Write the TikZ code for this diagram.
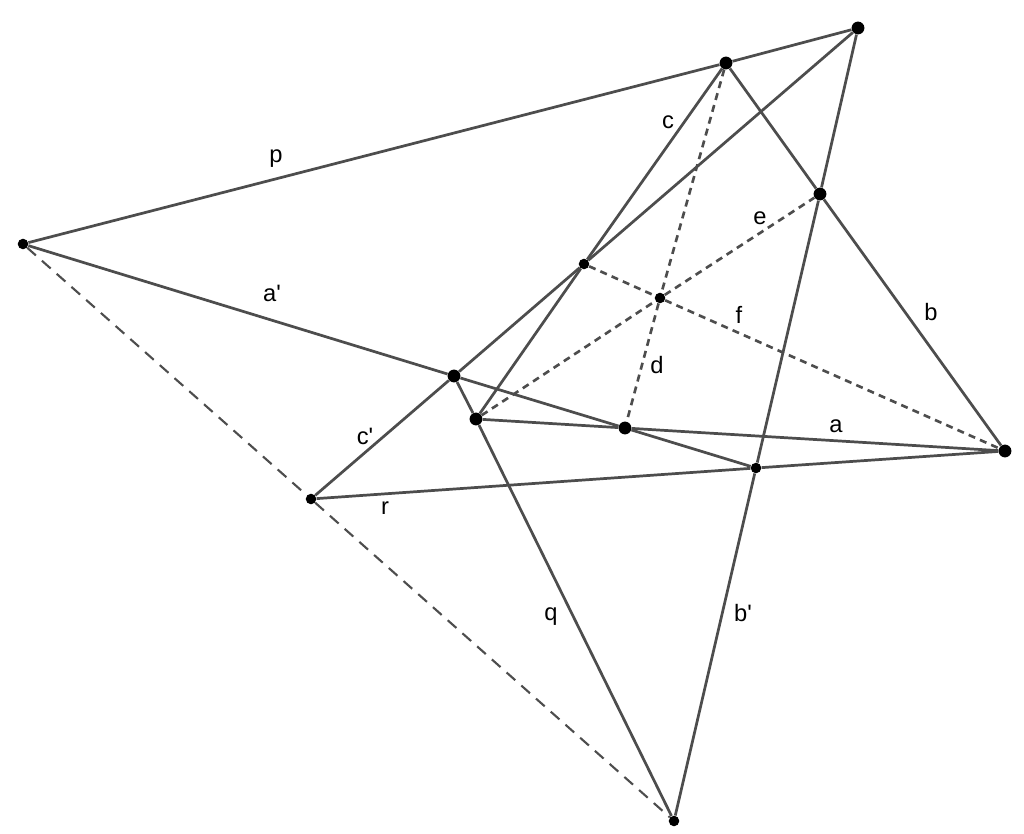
\documentclass[tikz,border=0pt]{standalone}
\usepackage{fontspec}
\setmainfont{Liberation Sans}
\definecolor{linegray}{RGB}{77,77,77}

\begin{document}
\begin{tikzpicture}[x=0.02cm,y=-0.02cm]
	\tikzset{bigdot/.style={circle,fill,inner sep=0pt,minimum size=7.3pt},
		smalldot/.style={circle,fill,inner sep=0pt,minimum size=6pt},
		seg/.style={linegray,line width=1.55pt},
		dashseg/.style={linegray,line width=1.5pt,dash pattern=on 4pt off 3pt},
		longdash/.style={linegray,line width=1.2pt,dash pattern=on 6.6pt off 4.6pt},
		lab/.style={inner sep=0pt,font=\fontsize{13.5}{15}\selectfont}}
	\useasboundingbox (0,0) rectangle (1024,834);
	
	\node[bigdot] (A) at (858,28) {};
	\node[bigdot] (B) at (726,63) {};
	\node[bigdot] (C) at (820,194) {};
	\node[smalldot] (D) at (584,264) {};
	\node[smalldot] (E) at (660,298) {};
	\node[smalldot] (F) at (23,244) {};
	\node[bigdot] (G) at (454,376) {};
	\node[bigdot] (H) at (476,419) {};
	\node[bigdot] (I) at (625,428) {};
	\node[bigdot] (J) at (1005,451) {};
	\node[smalldot] (K) at (756,468) {};
	\node[smalldot] (L) at (311,499) {};
	\node[smalldot] (M) at (674,821) {};
	
	\draw[seg] (F)--(B);
	\draw[seg] (B)--(A);
	\draw[seg] (A)--(C);
	\draw[seg] (C)--(K);
	\draw[seg] (K)--(M);
	\draw[seg] (B)--(C);
	\draw[seg] (C)--(J);
	\draw[seg] (B)--(D);
	\draw[seg] (D)--(H);
	\draw[seg] (A)--(D);
	\draw[seg] (D)--(G);
	\draw[seg] (G)--(L);
	\draw[seg] (F)--(G);
	\draw[seg] (G)--(I);
	\draw[seg] (I)--(K);
	\draw[seg] (H)--(I);
	\draw[seg] (I)--(J);
	\draw[seg] (L)--(K);
	\draw[seg] (K)--(J);
	\draw[seg] (G)--(H);
	\draw[seg] (H)--(M);
	\draw[longdash] (F)--(L);
	\draw[longdash] (L)--(M);
	\draw[dashseg] (B)--(E);
	\draw[dashseg] (E)--(I);
	\draw[dashseg] (H)--(E);
	\draw[dashseg] (E)--(C);
	\draw[dashseg] (D)--(E);
	\draw[dashseg] (E)--(J);
	
	\node[lab] (lp) at (276,159) {p};
	\node[lab] (lc) at (668,122) {c};
	\node[lab] (le) at (760,218) {e};
	\node[lab] (lb) at (931,312) {b};
	\node[lab] (lf) at (739,315) {f};
	\node[lab] (lapr) at (272,293) {a\textquotesingle};
	\node[lab] (ld) at (657,365) {d};
	\node[lab] (la) at (836,426) {a};
	\node[lab] (lcpr) at (365,436) {c\textquotesingle};
	\node[lab] (lr) at (385,508) {r};
	\node[lab] (lq) at (551,617) {q};
	\node[lab] (lbpr) at (743,613) {b\textquotesingle};
\end{tikzpicture}
\end{document}
